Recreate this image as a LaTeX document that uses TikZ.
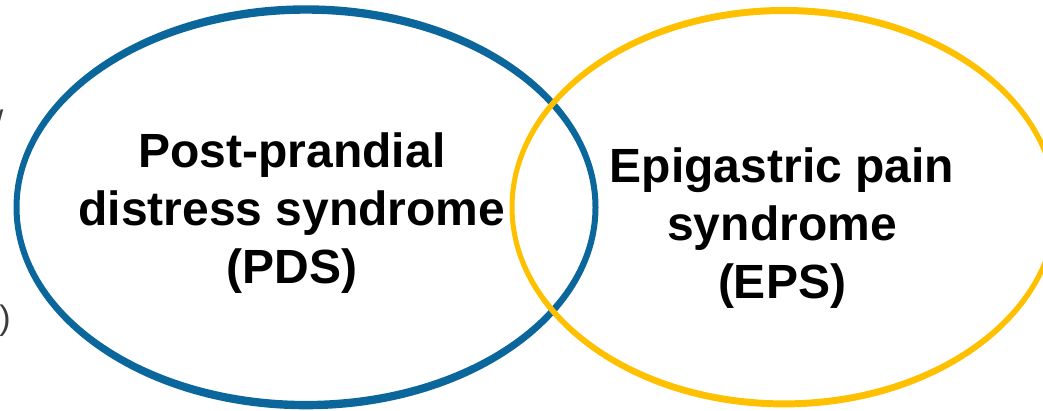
\documentclass[tikz,border=0pt]{standalone}
\usepackage{fontspec}
\setmainfont{Liberation Sans}
\definecolor{pdsblue}{HTML}{0B679B}
\definecolor{epsgold}{HTML}{FFC000}
\definecolor{fraggray}{HTML}{3C3C3C}
\begin{document}
\begin{tikzpicture}[x=1pt,y=-1pt,
  lbl/.style={align=center,font=\fontsize{48}{58}\selectfont\bfseries,inner sep=0pt},
  frag/.style={font=\fontsize{34}{40}\selectfont,text=fraggray,inner sep=0pt}]
\useasboundingbox (0,0) rectangle (1043,410);
\clip (0,0) rectangle (1043,410);
% blue ring (PDS)
\fill[pdsblue,even odd rule] (306,207.3) ellipse [x radius=292.5, y radius=202]
                              (306,207.3) ellipse [x radius=286.5, y radius=193.6];
% gold ring (EPS)
\fill[epsgold,even odd rule] (784,207.2) ellipse [x radius=274.5, y radius=200.2]
                              (784,207.2) ellipse [x radius=269.5, y radius=193.2];
\node[lbl] (pds) at (292,213) {Post-prandial\\distress syndrome\\(PDS)};
\node[lbl] (eps) at (782,228) {Epigastric pain\\syndrome\\(EPS)};
\node[frag,anchor=east] (f1) at (3.5,122) {/};
\node[frag,anchor=east] (f2) at (11,321) {)};
\end{tikzpicture}
\end{document}
